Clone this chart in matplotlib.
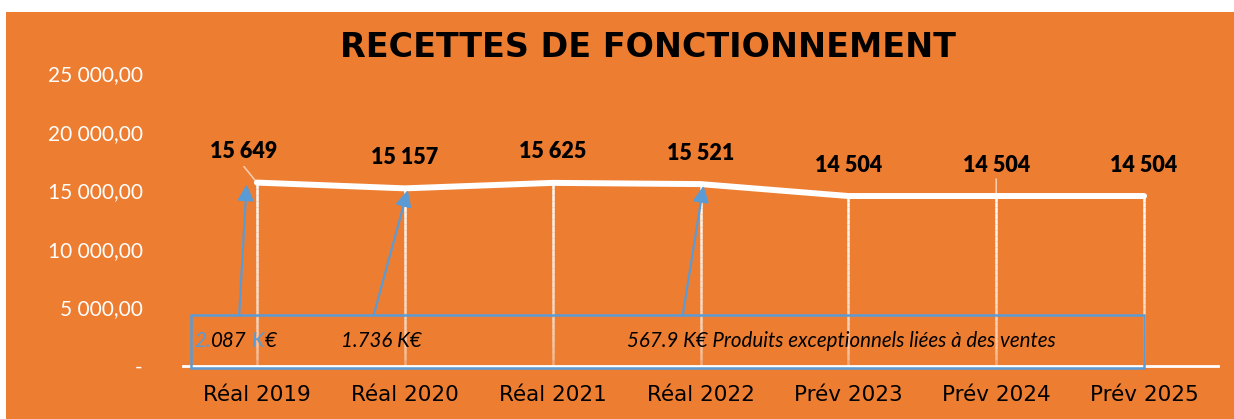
import matplotlib
matplotlib.use("Agg")
import matplotlib.pyplot as plt
import matplotlib.patches as patches
from matplotlib.collections import LineCollection
from matplotlib.ticker import FuncFormatter

# data
categories = ["Réal 2019", "Réal 2020", "Réal 2021", "Réal 2022",
              "Prév 2023", "Prév 2024", "Prév 2025"]
recettes = [15649, 15157, 15625, 15521, 14504, 14504, 14504]
value_labels = ["15 649", "15 157", "15 625", "15 521", "14 504", "14 504", "14 504"]
y_ticks = [0, 5000, 10000, 15000, 20000, 25000]

# exceptional products pointed by arrows (category index, tail x, tail y)
arrow_targets = [0, 1, 3]
arrow_tails = [(-0.12, 4350), (0.79, 4350), (2.88, 4350)]

ORANGE = "#ED7D31"
BLUE = "#5B9BD5"

W, H = 1234, 419
fig = plt.figure(figsize=(W / 100, H / 100), dpi=100, facecolor="white")
# orange chart area (small white margin top/left)
fig.patches.append(patches.Rectangle((6 / W, 0), 1, 1 - 12 / H, transform=fig.transFigure,
                                     facecolor=ORANGE, edgecolor="none", zorder=-10))

ax = fig.add_axes([183 / W, 1 - 366 / H, (1218 - 183) / W, (366 - 73) / H])
ax.set_facecolor("none")
ax.set_zorder(2)
x = list(range(len(categories)))
ax.set_xlim(-0.5, 6.5)
ax.set_ylim(0, 25000)

# drop lines, fading towards the axis
nseg = 30
for xi, v in zip(x, recettes):
    segs, cols = [], []
    for k in range(nseg):
        y0 = v * k / nseg
        y1 = v * (k + 1) / nseg
        segs.append([(xi, y0), (xi, y1)])
        a = 0.35 + 0.65 * (k / nseg) ** 0.5
        cols.append((1, 1, 1, min(a, 1)))
    ax.add_collection(LineCollection(segs, colors=cols, linewidths=1.8, zorder=2))

# main line
ax.plot(x, recettes, color="white", lw=4.3, solid_capstyle="round",
        solid_joinstyle="round", zorder=4)

# value labels
for i, (xi, v, lab) in enumerate(zip(x, recettes, value_labels)):
    dx = -13 if i == 0 else 0
    ax.annotate(lab, (xi, v), xytext=(dx, 31), textcoords="offset pixels",
                ha="center", va="center", fontsize=15.5, fontweight="heavy",
                family="Lato", color="black", zorder=6)

# small leader lines
ax.annotate("", (0, recettes[0]), xytext=(-13, 16), textcoords="offset pixels",
            arrowprops=dict(arrowstyle="-", color="#F8C9A8", lw=1.2, shrinkA=0, shrinkB=0))
ax.annotate("", (5, recettes[5]), xytext=(0, 17), textcoords="offset pixels",
            arrowprops=dict(arrowstyle="-", color="#F8C9A8", lw=1.2, shrinkA=0, shrinkB=0))

# annotation box
box = patches.Rectangle((-0.447, -170), 6.447, 4520, facecolor="none",
                        edgecolor=BLUE, lw=1.8, clip_on=False, zorder=5)
ax.add_patch(box)

# arrows from the box to the points
for idx, (tx, ty) in zip(arrow_targets, arrow_tails):
    hx = idx - 0.07 if idx == 0 else idx + 0.02
    ax.annotate("", (hx, recettes[idx] - 150), xytext=(tx, ty),
                arrowprops=dict(arrowstyle="-|>", color=BLUE, lw=1.6,
                                mutation_scale=24, shrinkA=0, shrinkB=0),
                zorder=7)

# texts in the box
tstyle = dict(fontsize=14.8, style="italic", family="Lato", ha="left", zorder=8)
pieces = [("2.", BLUE), ("087", "black"), (" K", BLUE), ("€", "black")]
prev = ax.text(-0.42, 1650, pieces[0][0], color=pieces[0][1], va="baseline", **tstyle)
for txt, col in pieces[1:]:
    prev = ax.annotate(txt, xy=(1, 0), xycoords=prev, color=col, va="bottom", **tstyle)
ax.text(0.57, 1650, "1.736 K€", color="black", va="baseline", **tstyle)
ax.text(2.50, 1650, "567.9 K€ Produits exceptionnels liées à des ventes",
        color="black", va="baseline", **tstyle)

# axes styling
for s in ["top", "right", "left"]:
    ax.spines[s].set_visible(False)
ax.spines["bottom"].set_color("white")
ax.spines["bottom"].set_linewidth(2)
ax.spines["bottom"].set_zorder(3)

ax.set_xticks(x)
ax.set_xticklabels(categories, fontsize=15.5, family="DejaVu Sans", color="black")
ax.tick_params(axis="x", length=0, pad=14)

ax.set_yticks(y_ticks)
ax.yaxis.set_major_formatter(FuncFormatter(
    lambda v, p: "-" if v == 0 else f"{v:,.2f}".replace(",", " ").replace(".", ",")))
ax.tick_params(axis="y", length=0, pad=29, labelsize=15, labelcolor="white")
for t in ax.get_yticklabels():
    t.set_family("Lato")

fig.text(648 / W, 1 - 57 / H, "RECETTES DE FONCTIONNEMENT", ha="center", va="baseline",
         fontsize=24, fontweight="bold", family="DejaVu Sans", color="black")

fig.savefig("out.png", dpi=100, facecolor=fig.get_facecolor())
